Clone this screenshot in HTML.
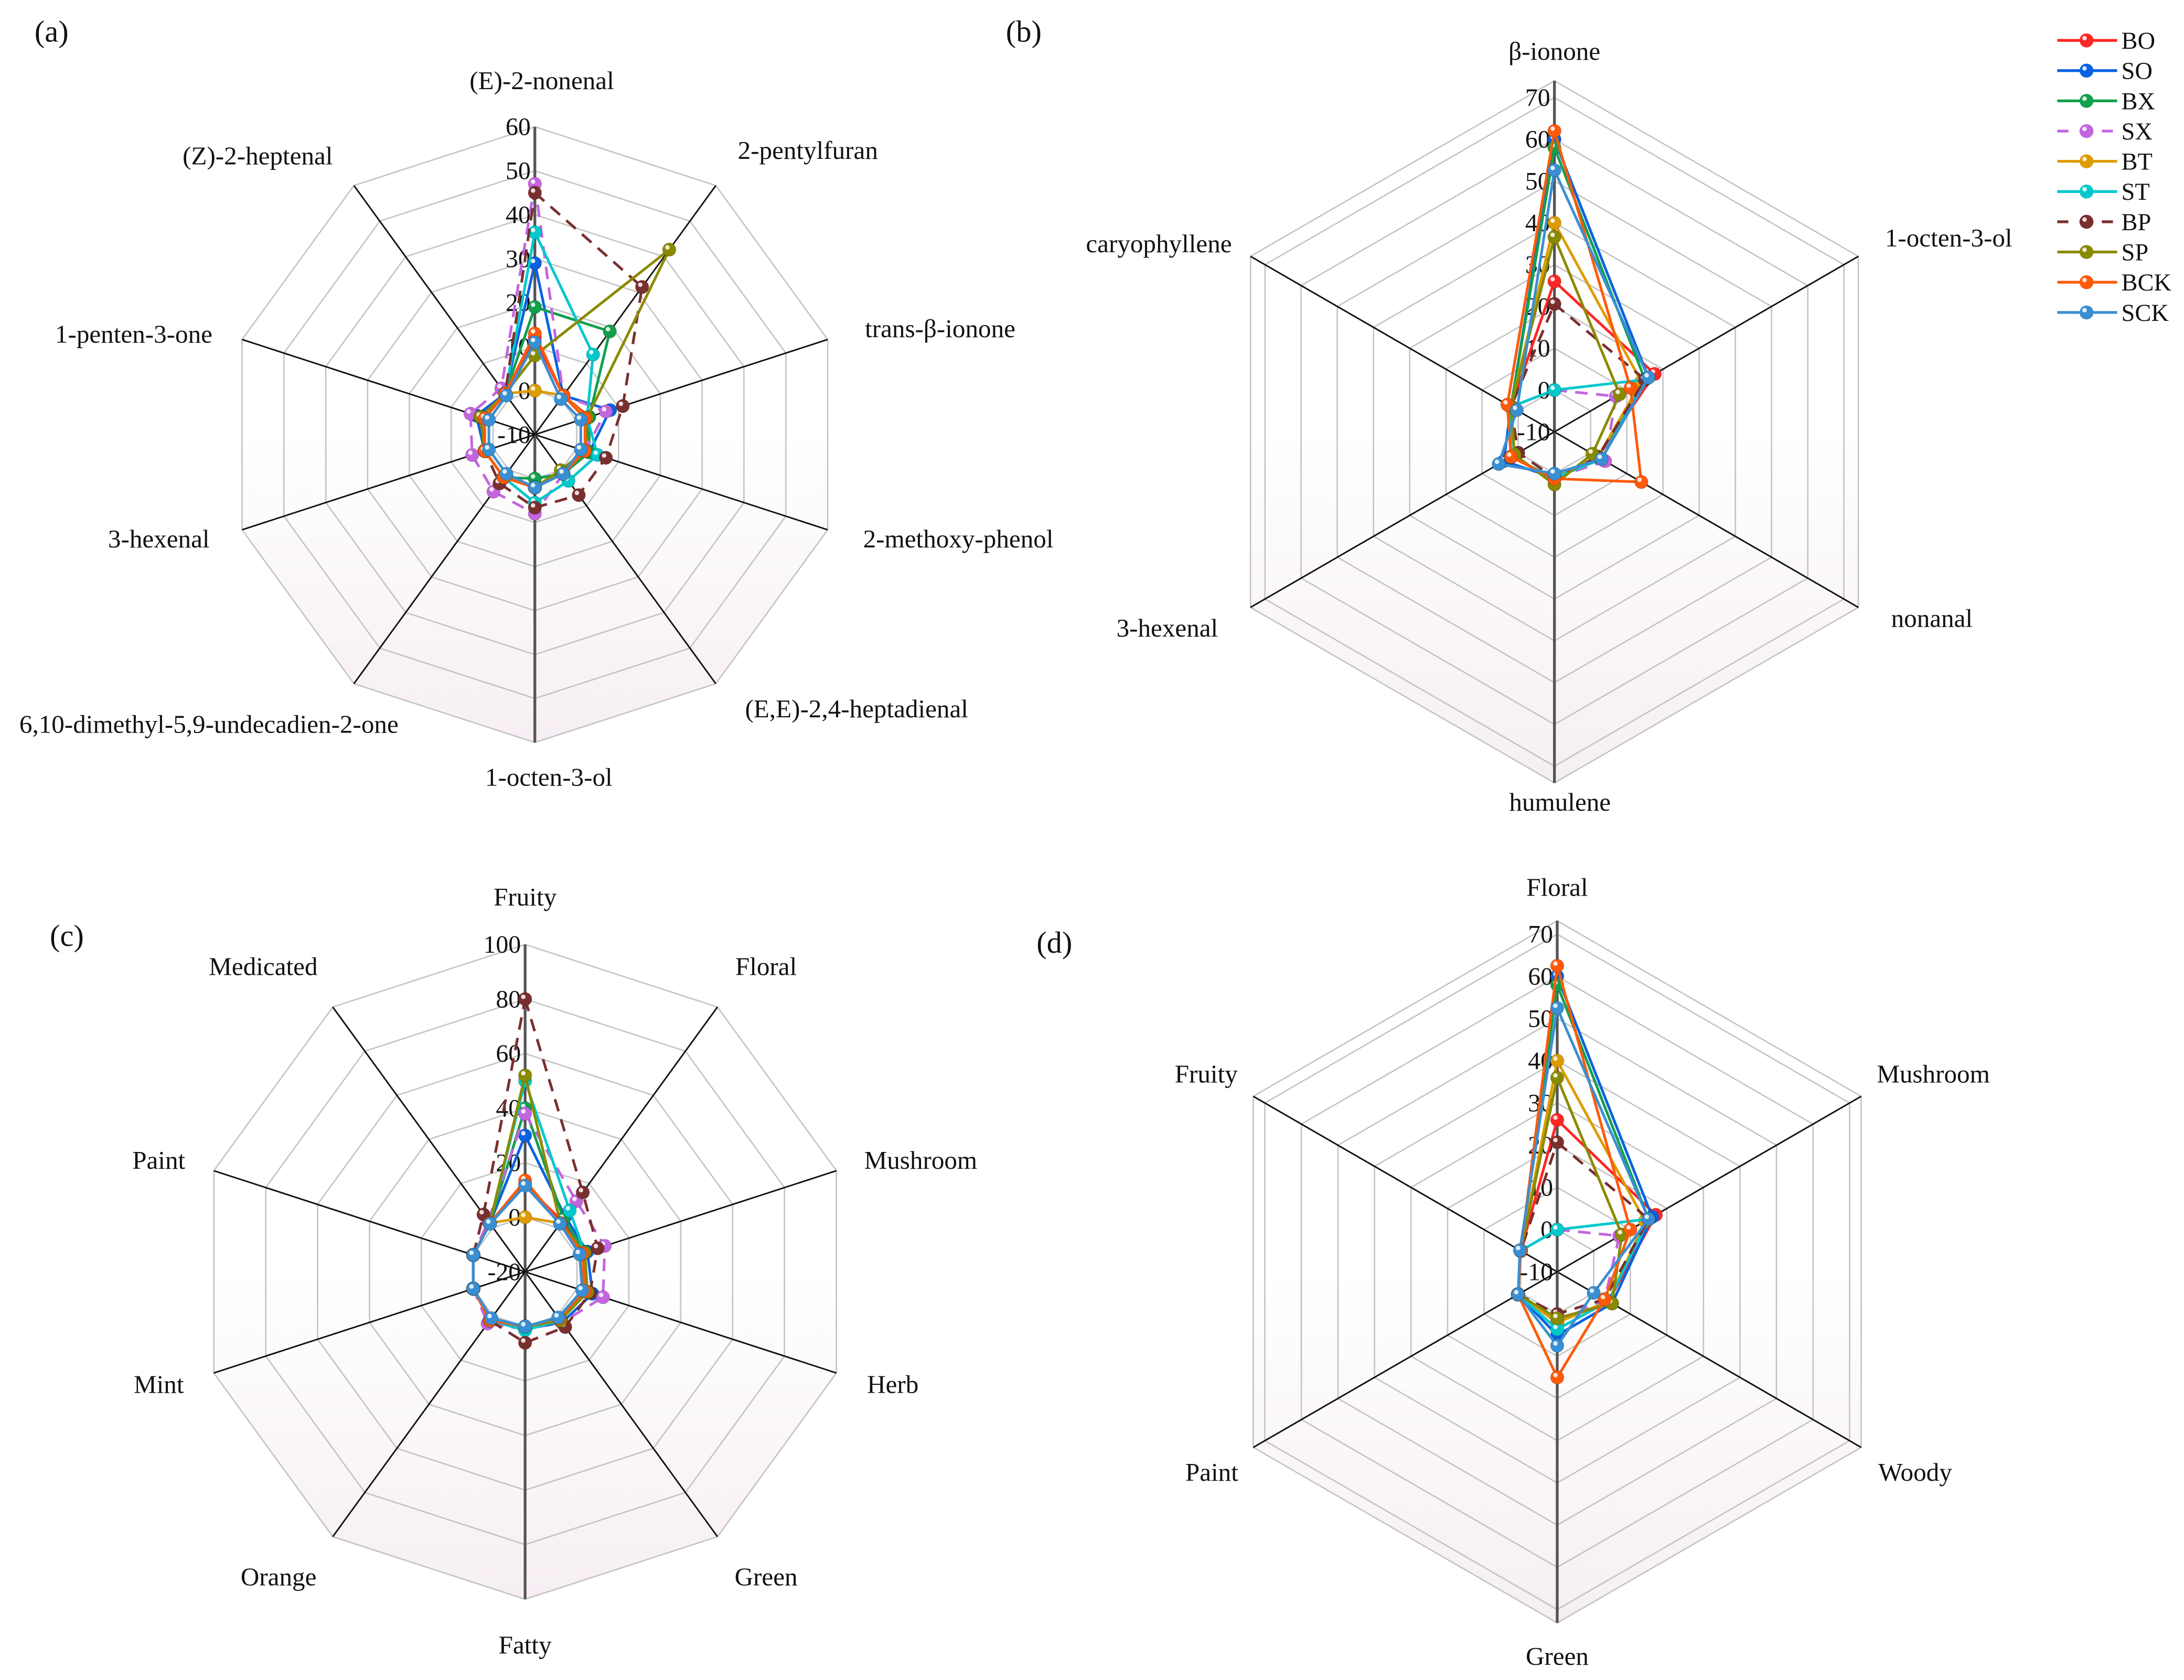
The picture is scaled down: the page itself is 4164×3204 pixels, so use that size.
<!DOCTYPE html>
<html><head><meta charset="utf-8"><title>Radar charts</title>
<style>
html,body{margin:0;padding:0;background:#fff;}
svg{display:block;}
text{font-family:"Liberation Serif",serif;fill:#111;}
</style></head>
<body>
<svg id="chart" xmlns="http://www.w3.org/2000/svg" width="4164" height="3204" viewBox="0 0 1568 1206" preserveAspectRatio="none">
<defs>
<linearGradient id="floor" x1="0" y1="0" x2="0" y2="1">
<stop offset="0" stop-color="#ffffff"/><stop offset="0.5" stop-color="#ffffff"/><stop offset="1" stop-color="#f6eef3"/>
</linearGradient>
</defs>
<g id="panels"></g>
<g id="legend"></g>
</svg>
<script>
const seriesNames = ["BO","SO","BX","SX","BT","ST","BP","SP","BCK","SCK"];
const seriesColors = ["#ff2626","#0a62e0","#12a04e","#c465e0","#dc9c00","#00c8cc","#7a2f2f","#8a8a00","#ff5a0a","#3a8fd2"];
const seriesDashed = [false,false,false,true,false,false,true,false,false,false];

// Panel (a)
const axesA = ["(E)-2-nonenal","2-pentylfuran","trans-β-ionone","2-methoxy-phenol","(E,E)-2,4-heptadienal","1-octen-3-ol","6,10-dimethyl-5,9-undecadien-2-one","3-hexenal","1-penten-3-one","(Z)-2-heptenal"];
const ticksA = [-10,0,10,20,30,40,50,60];
const aBO  = [12,1,3,2,1,2,2,2,4,1.5];
const aSO  = [29,1,8,3,1,2,2,2,4,1.5];
const aBX  = [19,19,3,3,1,0,2,2,3,1.5];
const aSX  = [47,1,7,2,1,8,6,5,5.4,3];
const aBT  = [0,1,2.5,2,1,2,2,2,3,1.5];
const aST  = [36,12.5,2.5,5,3,5.5,2,2,2,1.5];
const aBP  = [45,31.5,11,7,7,6.6,3.7,2,3,1.5];
const aSP  = [8,42,2.5,2,0,2,2,2,3,1.5];
const aBCK = [13,1,2,2,1,2,2,2,2,1.5];
const aSCK = [11,0,1,1,1,2,1,1,1,1];

// Panel (b)
const axesB = ["β-ionone","1-octen-3-ol","nonanal","humulene","3-hexenal","caryophyllene"];
const ticksB = [-10,0,10,20,30,40,50,60,70];
const bBO  = [26,17.7,2,1,2,2];
const bSO  = [60,16,3,1,4,2];
const bBX  = [58,15,2,1,2,2];
const bSX  = [0,7,4,1,2,2];
const bBT  = [40,14,2,1,2,2];
const bST  = [0,15,3,1,2,2];
const bBP  = [20.6,15,2,1,0,2];
const bSP  = [36.6,8,0.5,2.6,1,2];
const bBCK = [62,11,14,1.2,2,3];
const bSCK = [52.6,16,3,0,5.4,0.4];

// Panel (c)
const axesC = ["Fruity","Floral","Mushroom","Herb","Green","Fatty","Orange","Mint","Paint","Medicated"];
const ticksC = [-20,0,20,40,60,80,100];
const cBO  = [12,3,3,4,2,1,2,0,0,2];
const cSO  = [30,5,4,6,3,1,2,0,0,2];
const cBX  = [40,4,3,4,2,1,2,0,0,2];
const cSX  = [38,12,10.7,10,3,1,3.4,0,0,3];
const cBT  = [0,2,3,3,2,1,2,0,0,2];
const cST  = [50,7.8,3,4,2,1.4,2,0,0,2];
const cBP  = [80,16,8,5,5,6,2,0,0,6];
const cSP  = [52,2,3,4,2,0,2,0,0,2];
const cBCK = [13.5,2,2,3,1,0,2,0,0,2];
const cSCK = [11.6,1.8,1,2,0.7,0,1,0,0,1.8];

// Panel (d)
const axesD = ["Floral","Mushroom","Woody","Green","Paint","Fruity"];
const ticksD = [-10,0,10,20,30,40,50,60,70];
const dBO  = [26,17,4,2,0.7,0];
const dSO  = [60,16,5,5,0.7,0];
const dBX  = [58,15,4,2,0.7,0];
const dSX  = [0,7,3,2,0.7,0];
const dBT  = [40,14,4,2,0.7,0];
const dST  = [0,15,4,3.6,0.7,0];
const dBP  = [20.7,15,3,0,0.7,0];
const dSP  = [36,7.7,5,1,0.7,0];
const dBCK = [62.5,10,3,15,0.7,0];
const dSCK = [52.5,15,0,7.5,0.7,0.2];

const NS = "http://www.w3.org/2000/svg";
function mk(tag, attrs, parent){
  const e = document.createElementNS(NS, tag);
  for (const k in attrs) e.setAttribute(k, attrs[k]);
  if (parent) parent.appendChild(e);
  return e;
}

const panels = [
  {id:"a", letter:"(a)", lx:37, ly:30, cx:384, cy:312, min:-10, max:60, scale:221/70, outer:221,
   axes:axesA, ticks:ticksA, data:[aBO,aSO,aBX,aSX,aBT,aST,aBP,aSP,aBCK,aSCK],
   labels:[[389,64],[580,114],[675,242],[688,393],[615,515],[394,564],[150,526],[114,393],[96,246],[185,118]]},
  {id:"b", letter:"(b)", lx:735, ly:30, cx:1116, cy:310, min:-10, max:70, scale:3.0, outer:252,
   axes:axesB, ticks:ticksB, data:[bBO,bSO,bBX,bSX,bBT,bST,bBP,bSP,bBCK,bSCK],
   labels:[[1116,43],[1399,177],[1387,450],[1120,582],[838,457],[832,181]]},
  {id:"c", letter:"(c)", lx:48, ly:679, cx:377, cy:913, min:-20, max:100, scale:235/120, outer:235,
   axes:axesC, ticks:ticksC, data:[cBO,cSO,cBX,cSX,cBT,cST,cBP,cSP,cBCK,cSCK],
   labels:[[377,650],[550,700],[661,839],[641,1000],[550,1138],[377,1187],[200,1138],[114,1000],[114,839],[189,700]]},
  {id:"d", letter:"(d)", lx:757, ly:684, cx:1118, cy:913, min:-10, max:70, scale:3.03, outer:252,
   axes:axesD, ticks:ticksD, data:[dBO,dSO,dBX,dSX,dBT,dST,dBP,dSP,dBCK,dSCK],
   labels:[[1118,643],[1388,777],[1375,1063],[1118,1195],[870,1063],[866,777]]}
];

const root = document.getElementById("panels");

function dirOf(n, i){
  const ang = (-90 + 360 / n * i) * Math.PI / 180;
  return [Math.cos(ang), Math.sin(ang)];
}

panels.forEach(function(p){
  const n = p.axes.length;
  const g = mk("g", {}, root);
  
  
  function rOf(v){ return (v - p.min) * p.scale; }
  function pt(i, v){ const d = dirOf(n, i); const r = rOf(v); return [p.cx + d[0]*r, p.cy + d[1]*r]; }
  function ring(r){
    const pts = [];
    for (let i = 0; i < n; i++){ const d = dirOf(n, i); pts.push((p.cx + d[0]*r).toFixed(1) + "," + (p.cy + d[1]*r).toFixed(1)); }
    return pts.join(" ");
  }
  const bg = mk("polygon", {points: ring(p.outer), fill:"url(#floor)", stroke:"none"}, g);
  
  
  p.ticks.forEach(function(t){
    if (t === p.min) return;
    const rg = mk("polygon", {points: ring(rOf(t)), fill:"none", stroke:"#c4c4c4", "stroke-width":1}, g);
    
    
  });
  if (p.outer > rOf(p.max) + 2){
    const og = mk("polygon", {points: ring(p.outer), fill:"none", stroke:"#c4c4c4", "stroke-width":1}, g);
    
    
  }
  for (let i = 0; i < n; i++){
    const d = dirOf(n, i);
    const isV = (i === 0 || (n % 2 === 0 && i === n/2));
    const ln = mk("line", {x1:p.cx, y1:p.cy, x2:(p.cx + d[0]*p.outer).toFixed(1), y2:(p.cy + d[1]*p.outer).toFixed(1),
      stroke: isV ? "#555" : "#111", "stroke-width": isV ? 2 : 1.1}, g);
    
    
  }
  p.ticks.forEach(function(t){
    const tx = mk("text", {x:p.cx - 3, y:(p.cy - rOf(t) + 6).toFixed(1), "text-anchor":"end", "font-size":18}, g);
    tx.textContent = String(t);
    
    
  });
  p.axes.forEach(function(a, i){
    const tx = mk("text", {x:p.labels[i][0], y:p.labels[i][1], "text-anchor":"middle", "font-size":18.5}, g);
    tx.textContent = a;
    
    
  });
  const lt = mk("text", {x:p.lx, y:p.ly, "text-anchor":"middle", "font-size":22}, g);
  lt.textContent = p.letter;
  
  
  p.data.forEach(function(vals, s){
    const sg = mk("g", {}, g);
    
    
    const pts = vals.map(function(v, i){ return pt(i, v); });
    const poly = mk("polygon", {points: pts.map(function(q){return q[0].toFixed(1)+","+q[1].toFixed(1);}).join(" "),
      fill:"none", stroke:seriesColors[s], "stroke-width":1.9, "stroke-linejoin":"round"}, sg);
    if (seriesDashed[s]) poly.setAttribute("stroke-dasharray", "9,6");
    
    
    pts.forEach(function(q){
      const c = mk("circle", {cx:q[0].toFixed(1), cy:q[1].toFixed(1), r:4.8, fill:seriesColors[s], stroke:"rgba(0,0,0,0.15)", "stroke-width":0.6}, sg);
      
      
      const h = mk("circle", {cx:(q[0]-1.3).toFixed(1), cy:(q[1]-1.6).toFixed(1), r:1.6, fill:"#fff", opacity:0.85}, sg);
      
      
    });
  });
});

const lg = document.getElementById("legend");
seriesNames.forEach(function(nm, s){
  const y = 29 + s * 21.7;
  const eg = mk("g", {}, lg);
  
  
  const l = mk("line", {x1:1477, y1:y, x2:1520, y2:y, stroke:seriesColors[s], "stroke-width":2}, eg);
  if (seriesDashed[s]) l.setAttribute("stroke-dasharray", "8,8");
  
  
  const c = mk("circle", {cx:1498, cy:y, r:5, fill:seriesColors[s]}, eg);
  
  
  const h = mk("circle", {cx:1496.6, cy:y-1.6, r:1.6, fill:"#fff", opacity:0.85}, eg);
  
  
  const t = mk("text", {x:1523, y:y+6, "font-size":17.5}, eg);
  t.textContent = nm;
  
  
});
</script>
</body></html>
